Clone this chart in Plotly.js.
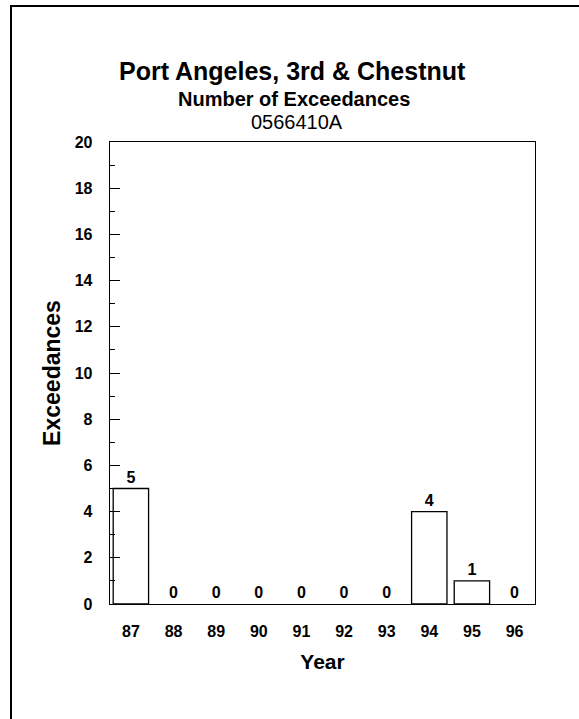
<!DOCTYPE html>
<html>
<head>
<meta charset="utf-8">
<script src="https://cdn.plot.ly/plotly-3.0.1.min.js"></script>
<style>html,body{margin:0;padding:0;background:#fff;overflow:hidden}</style>
</head>
<body>
<div id="chart" style="width:579px;height:719px"></div>
<script>
const years = ["87","88","89","90","91","92","93","94","95","96"];
const exceedances = [5,0,0,0,0,0,0,4,1,0];
const titleMain = "Port Angeles, 3rd & Chestnut";
const titleSub = "Number of Exceedances";
const titleId = "0566410A";
const xTitle = "Year";
const yTitle = "Exceedances";

const FONT = "Arial, 'Liberation Sans', sans-serif";
const W = 579, H = 719;
const L = 110, R = 44, T = 142, B = 115;
const pw = W - L - R, ph = H - T - B;
const px = v => (v - L) / pw;
const py = v => (H - B - v) / ph;

const trace = {
  type: 'bar',
  x: years,
  y: exceedances,
  width: 0.83,
  marker: {color: '#ffffff', line: {color: '#000000', width: exceedances.map(v => v > 0 ? 1.3 : 0)}},
  text: exceedances.map(String),
  textposition: 'outside',
  textfont: {family: FONT, size: 16, color: '#000', weight: 'bold'},
  cliponaxis: false,
  hoverinfo: 'none'
};

const layout = {
  width: W, height: H,
  margin: {l: L, r: R, t: T, b: B, pad: 0},
  paper_bgcolor: '#fff', plot_bgcolor: '#fff',
  showlegend: false,
  font: {family: FONT, color: '#000'},
  xaxis: {
    type: 'category',
    range: [-0.49, 9.48],
    showgrid: false, zeroline: false,
    ticks: '',
    showline: true, linecolor: '#000', linewidth: 1.3, mirror: true,
    tickfont: {family: FONT, size: 16, color: '#000', weight: 'bold'},
    ticklabelstandoff: 12,
    title: {text: xTitle, font: {family: FONT, size: 21, color: '#000', weight: 'bold'}, standoff: 15}
  },
  yaxis: {
    range: [0, 20],
    dtick: 2, tick0: 0,
    showgrid: false, zeroline: false,
    ticks: 'inside', ticklen: 10, tickwidth: 1, tickcolor: '#000',
    minor: {dtick: 1, ticks: 'inside', ticklen: 5, tickwidth: 1, tickcolor: '#000', showgrid: false},
    showline: true, linecolor: '#000', linewidth: 1.3, mirror: true,
    tickfont: {family: FONT, size: 16, color: '#000', weight: 'bold'},
    ticklabelstandoff: 13,
    title: {text: yTitle, font: {family: FONT, size: 23, color: '#000', weight: 'bold'}, standoff: 7}
  },
  annotations: [
    {text: titleMain, xref: 'paper', yref: 'paper', x: px(292.5), y: py(71), xanchor: 'center', yanchor: 'middle', showarrow: false,
     font: {family: FONT, size: 25, color: '#000', weight: 'bold'}},
    {text: titleSub, xref: 'paper', yref: 'paper', x: px(294), y: py(98.5), xanchor: 'center', yanchor: 'middle', showarrow: false,
     font: {family: FONT, size: 20, color: '#000', weight: 'bold'}},
    {text: titleId, xref: 'paper', yref: 'paper', x: px(296.5), y: py(122), xanchor: 'center', yanchor: 'middle', showarrow: false,
     font: {family: FONT, size: 20, color: '#000'}}
  ],
  shapes: [
    {type: 'rect', xref: 'paper', yref: 'paper', x0: px(11), x1: px(600), y0: py(740), y1: py(6),
     line: {color: '#000', width: 2}, fillcolor: 'rgba(0,0,0,0)', layer: 'below'}
  ]
};

Plotly.newPlot('chart', [trace], layout, {displayModeBar: false, staticPlot: true});
</script>
</body>
</html>
